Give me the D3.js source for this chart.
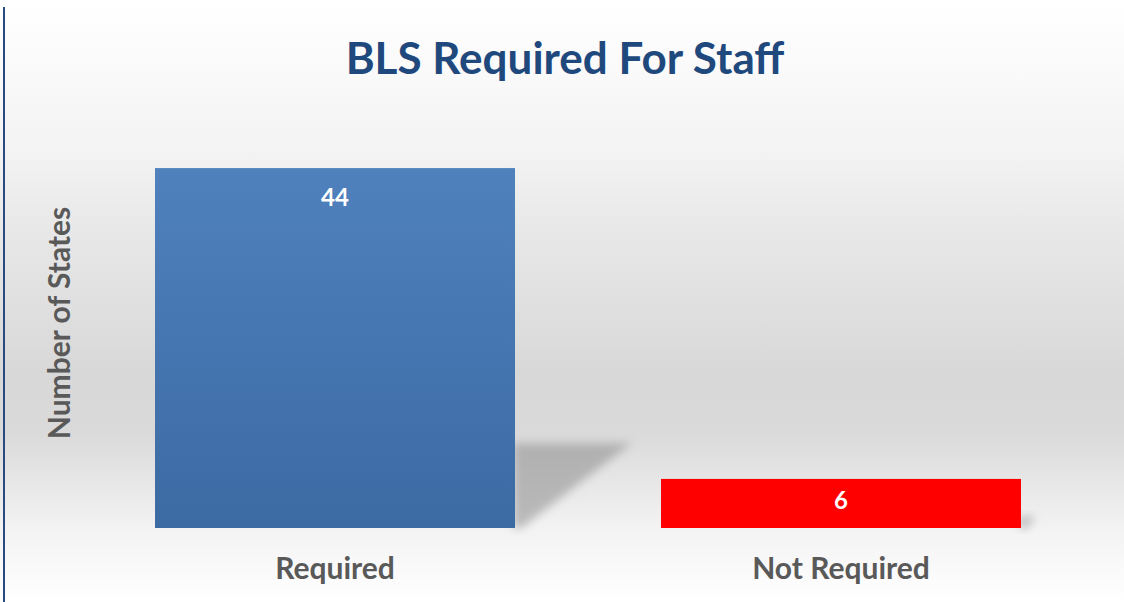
<!DOCTYPE html>
<html>
<head>
<meta charset="utf-8">
<script src="https://cdn.jsdelivr.net/npm/d3@7"></script>
<style>
  html, body { margin: 0; padding: 0; background: #fff; }
  text { font-family: Lato, "Open Sans", sans-serif; font-weight: bold; }
</style>
</head>
<body>
<div id="chart"></div>
<script>
var width = 1124, height = 602;

// data
var categories = ["Required", "Not Required"];
var values = [44, 6];
var barColors = ["blue", "red"];
var titleText = "BLS Required For Staff";
var yLabel = "Number of States";

var svg = d3.select("#chart")
  .append("svg")
    .attr("width", width)
    .attr("height", height);

var defs = svg.append("defs");

// background gradient
var bg = defs.append("linearGradient")
  .attr("id", "bg")
  .attr("x1", 0).attr("y1", 0).attr("x2", 0).attr("y2", 1);
[["0%", "#ffffff"], ["5%", "#fdfdfd"], ["25%", "#f3f3f3"], ["38%", "#e8e8e8"],
 ["62%", "#d8d8d8"], ["72%", "#dadada"], ["88%", "#f3f3f3"], ["100%", "#ffffff"]]
  .forEach(function(s) {
    bg.append("stop").attr("offset", s[0]).style("stop-color", s[1]);
  });

var blueGrad = defs.append("linearGradient")
  .attr("id", "grad-blue")
  .attr("x1", 0).attr("y1", 0).attr("x2", 0).attr("y2", 1);
blueGrad.append("stop").attr("offset", "0%").style("stop-color", "#4f81bd");
blueGrad.append("stop").attr("offset", "100%").style("stop-color", "#3c6aa3");

var redGrad = defs.append("linearGradient")
  .attr("id", "grad-red")
  .attr("x1", 0).attr("y1", 0).attr("x2", 0).attr("y2", 1);
redGrad.append("stop").attr("offset", "0%").style("stop-color", "#ff0000");
redGrad.append("stop").attr("offset", "100%").style("stop-color", "#ff0000");

defs.append("filter")
  .attr("id", "blur")
  .attr("x", "-50%").attr("y", "-50%").attr("width", "200%").attr("height", "200%")
  .append("feGaussianBlur")
    .attr("stdDeviation", 5);

svg.append("rect")
  .attr("width", width)
  .attr("height", height)
  .attr("fill", "url(#bg)");

// left border line
svg.append("line")
  .attr("x1", 4).attr("x2", 4)
  .attr("y1", 7).attr("y2", height)
  .attr("stroke", "#284a7e")
  .attr("stroke-width", 2);

var x = d3.scaleBand()
  .domain(categories)
  .range([82, 1094])
  .paddingInner(0.2885)
  .paddingOuter(0.1443);

var y = d3.scaleLinear()
  .domain([0, 50])
  .range([528, 119]);

var data = categories.map(function(c, i) {
  return {cat: c, value: values[i], color: barColors[i]};
});

// perspective shadows
svg.append("g").selectAll("path")
  .data(data)
  .enter().append("path")
    .attr("d", function(d) {
      var x0 = x(d.cat) + x.bandwidth() - 2;
      var yb = y(0);
      var h = yb - y(d.value);
      var top = yb - h * 0.236;
      var dx = h * 0.33;
      return "M" + x0 + "," + top + " L" + (x0 + dx) + "," + top +
             " L" + (x0 + 8) + "," + yb + " L" + x0 + "," + yb + "Z";
    })
    .attr("fill", "#8c8c8c")
    .attr("opacity", 0.55)
    .attr("filter", "url(#blur)");

// bars
svg.append("g").selectAll("rect")
  .data(data)
  .enter().append("rect")
    .attr("x", function(d) { return x(d.cat); })
    .attr("y", function(d) { return y(d.value); })
    .attr("width", x.bandwidth())
    .attr("height", function(d) { return y(0) - y(d.value); })
    .attr("fill", function(d) { return "url(#grad-" + d.color + ")"; });

// value labels
svg.append("g").selectAll("text")
  .data(data)
  .enter().append("text")
    .attr("x", function(d) { return x(d.cat) + x.bandwidth() / 2; })
    .attr("y", function(d) {
      var top = y(d.value), mid = (y(d.value) + y(0)) / 2;
      return Math.min(top + 38, mid + 6);
    })
    .attr("text-anchor", "middle")
    .attr("fill", "#ffffff")
    .style("font-size", "24px")
    .text(function(d) { return d.value; });

// category labels
var xAxis = svg.append("g")
  .attr("transform", "translate(0," + y(0) + ")")
  .call(d3.axisBottom(x).tickSize(0).tickPadding(0));
xAxis.select(".domain").remove();
xAxis.selectAll("text")
  .attr("dy", 0)
  .attr("y", 51)
  .attr("fill", "#595959")
  .style("font-size", "30px")
  .style("font-family", "Lato, 'Open Sans', sans-serif")
  .style("font-weight", "bold");

// title
svg.append("text")
  .attr("x", 565)
  .attr("y", 74)
  .attr("text-anchor", "middle")
  .attr("fill", "#1f497d")
  .style("font-size", "44px")
  .text(titleText);

// y axis label
svg.append("text")
  .attr("transform", "translate(70,323) rotate(-90)")
  .attr("text-anchor", "middle")
  .attr("fill", "#595959")
  .style("font-size", "30px")
  .text(yLabel);
</script>
</body>
</html>
